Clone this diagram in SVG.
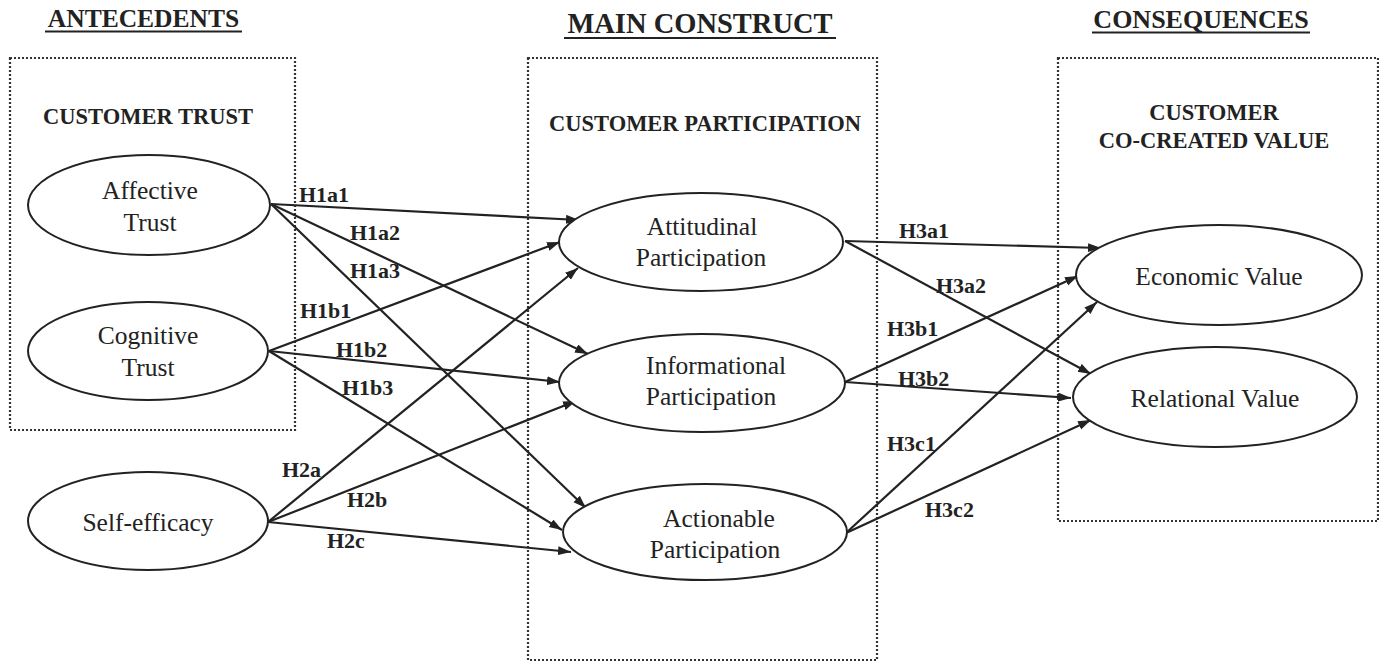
<svg xmlns="http://www.w3.org/2000/svg" width="1379" height="661" viewBox="0 0 1379 661">
<style>
.box{fill:none;stroke:#333;stroke-width:2.2;stroke-dasharray:2 2}
.title{font-family:"Liberation Serif",serif;font-weight:bold;fill:#222;text-anchor:middle}
.grp{font-family:"Liberation Serif",serif;font-weight:bold;fill:#222;text-anchor:middle;font-size:22.5px}
.ul{stroke:#222;stroke-width:2}
.node ellipse{fill:#fff;stroke:#222;stroke-width:2}
.node text{font-family:"Liberation Serif",serif;font-size:25.5px;fill:#222;text-anchor:middle}
.edge{stroke:#222;stroke-width:2.2;fill:none;marker-end:url(#ah)}
.lbl{font-family:"Liberation Serif",serif;font-weight:bold;font-size:22px;fill:#222}
</style>
<defs>
<marker id="ah" markerUnits="userSpaceOnUse" markerWidth="14" markerHeight="10" refX="13" refY="4.5" orient="auto">
<path d="M0,0 L13,4.5 L0,9 z" fill="#222"/>
</marker>
</defs>
<rect width="1379" height="661" fill="#fff"/>
<g id="headers">
<text class="title" x="143.5" y="27" font-size="25.5">ANTECEDENTS</text>
<line class="ul" x1="45" y1="31.5" x2="242" y2="31.5"/>
<text class="title" x="700" y="33" font-size="28.5">MAIN CONSTRUCT</text>
<line class="ul" x1="564" y1="38" x2="836" y2="38"/>
<text class="title" x="1201" y="28" font-size="26">CONSEQUENCES</text>
<line class="ul" x1="1092" y1="32.5" x2="1310" y2="32.5"/>
</g>
<g id="group-trust">
<rect class="box" x="10" y="58" width="285" height="372"/>
<text class="grp" x="148" y="124" font-size="23">CUSTOMER TRUST</text>
</g>
<g id="group-participation">
<rect class="box" x="528" y="58" width="349" height="602"/>
<text class="grp" x="705" y="131">CUSTOMER PARTICIPATION</text>
</g>
<g id="group-value">
<rect class="box" x="1058" y="58" width="320" height="463"/>
<text class="grp" x="1214" y="120">CUSTOMER</text>
<text class="grp" x="1214" y="148">CO-CREATED VALUE</text>
</g>
<g id="connectors">
<line class="edge" x1="271" y1="204" x2="579" y2="220"/>
<line class="edge" x1="271" y1="204" x2="588" y2="354"/>
<line class="edge" x1="271" y1="204" x2="586" y2="508"/>
<line class="edge" x1="269" y1="351" x2="560" y2="242"/>
<line class="edge" x1="269" y1="351" x2="560" y2="382"/>
<line class="edge" x1="269" y1="351" x2="562" y2="530"/>
<line class="edge" x1="268" y1="522" x2="578" y2="268"/>
<line class="edge" x1="268" y1="522" x2="576" y2="401"/>
<line class="edge" x1="268" y1="522" x2="571" y2="552"/>
<line class="edge" x1="845" y1="241" x2="1101" y2="248"/>
<line class="edge" x1="845" y1="241" x2="1091" y2="374"/>
<line class="edge" x1="845" y1="382" x2="1078" y2="276"/>
<line class="edge" x1="845" y1="382" x2="1071" y2="398"/>
<line class="edge" x1="846" y1="533" x2="1097" y2="302"/>
<line class="edge" x1="846" y1="533" x2="1091" y2="420"/>
</g>
<g id="labels">
<text class="lbl" x="299" y="202">H1a1</text>
<text class="lbl" x="350" y="240">H1a2</text>
<text class="lbl" x="350" y="278">H1a3</text>
<text class="lbl" x="300" y="318">H1b1</text>
<text class="lbl" x="336" y="357">H1b2</text>
<text class="lbl" x="342" y="395">H1b3</text>
<text class="lbl" x="282" y="477">H2a</text>
<text class="lbl" x="347" y="507">H2b</text>
<text class="lbl" x="327" y="548">H2c</text>
<text class="lbl" x="899" y="238">H3a1</text>
<text class="lbl" x="936" y="293">H3a2</text>
<text class="lbl" x="887" y="336">H3b1</text>
<text class="lbl" x="898" y="386">H3b2</text>
<text class="lbl" x="887" y="451">H3c1</text>
<text class="lbl" x="925" y="517">H3c2</text>
</g>
<g id="affective-trust" class="node">
<ellipse cx="149" cy="205" rx="121" ry="50"/>
<text x="150" y="199">Affective</text>
<text x="150" y="231">Trust</text>
</g>
<g id="cognitive-trust" class="node">
<ellipse cx="148" cy="351" rx="120" ry="49"/>
<text x="148" y="344">Cognitive</text>
<text x="148" y="376">Trust</text>
</g>
<g id="self-efficacy" class="node">
<ellipse cx="148" cy="521" rx="120" ry="49"/>
<text x="148" y="531">Self-efficacy</text>
</g>
<g id="attitudinal-participation" class="node">
<ellipse cx="701" cy="242" rx="142" ry="49"/>
<text x="702" y="235">Attitudinal</text>
<text x="701" y="266">Participation</text>
</g>
<g id="informational-participation" class="node">
<ellipse cx="702" cy="383" rx="143" ry="49"/>
<text x="716" y="374">Informational</text>
<text x="711" y="405">Participation</text>
</g>
<g id="actionable-participation" class="node">
<ellipse cx="705" cy="532" rx="142" ry="48"/>
<text x="719" y="527">Actionable</text>
<text x="715" y="558">Participation</text>
</g>
<g id="economic-value" class="node">
<ellipse cx="1219" cy="275" rx="143" ry="50"/>
<text x="1219" y="285">Economic Value</text>
</g>
<g id="relational-value" class="node">
<ellipse cx="1215" cy="397" rx="142" ry="50"/>
<text x="1215" y="407">Relational Value</text>
</g>
</svg>
